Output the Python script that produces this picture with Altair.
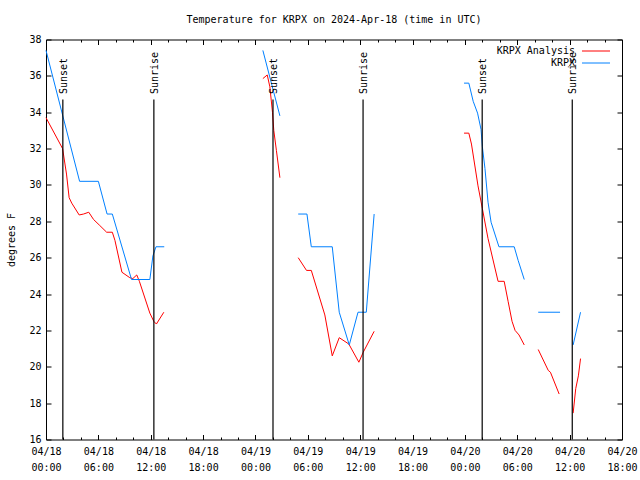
import altair as alt
import pandas as pd

# ---- data (hours since 2024-04-18 00:00 UTC, deg F) ----
an_hours = [0.0, 1.9, 2.35, 2.65, 2.95, 3.8, 4.3, 4.9, 5.45, 6.1, 6.95, 7.6, 7.9, 8.7, 9.6, 9.95, 10.4, 10.7, 11.9, 12.35, 12.65, 13.5,
            24.85, 25.35, 25.65, 25.95, 26.1, 26.4, 26.8,
            28.9, 29.85, 30.4, 31.95, 32.8, 33.6, 34.7, 35.85, 36.35, 37.6,
            47.9, 48.45, 48.75, 49.5, 50.0, 50.65, 51.8, 52.5, 52.95, 53.4, 53.75, 54.2, 54.8,
            56.4, 57.55, 57.8, 58.8,
            60.4, 60.7, 61.0, 61.25]
an_temps = [33.7, 32.0, 30.6, 29.3, 29.0, 28.35, 28.4, 28.5, 28.1, 27.8, 27.4, 27.4, 26.95, 25.2, 24.9, 24.85, 25.05, 24.7, 22.95, 22.5, 22.35, 23.0,
            35.85, 36.05, 35.4, 34.0, 33.0, 31.9, 30.4,
            26.0, 25.3, 25.3, 22.85, 20.6, 21.6, 21.25, 20.25, 20.8, 21.95,
            32.85, 32.85, 32.25, 29.95, 28.7, 27.05, 24.7, 24.7, 23.6, 22.5, 22.0, 21.75, 21.2,
            20.95, 19.8, 19.7, 18.5,
            17.45, 18.8, 19.5, 20.45]
an_seg = [1] * 22 + [2] * 7 + [3] * 10 + [4] * 13 + [5] * 4 + [6] * 4

ob_hours = [0.0, 3.85, 6.0, 7.0, 7.6, 9.8, 11.9, 12.25, 12.6, 13.55,
            24.85, 26.8,
            28.9, 29.9, 30.4, 32.8, 33.6, 34.75, 35.75, 36.7, 37.6,
            47.9, 48.45, 48.95, 49.45, 49.85, 50.0, 50.3, 50.65, 51.0, 51.9, 53.65, 54.1, 54.8,
            56.4, 58.9,
            60.4, 61.25]
ob_temps = [37.4, 30.2, 30.2, 28.4, 28.4, 24.8, 24.8, 26.1, 26.6, 26.6,
            37.4, 33.8,
            28.4, 28.4, 26.6, 26.6, 23.0, 21.2, 23.0, 23.0, 28.4,
            35.6, 35.6, 34.6, 33.95, 33.05, 32.1, 30.9, 29.05, 27.95, 26.6, 26.6, 25.85, 24.8,
            23.0, 23.0,
            21.2, 23.0]
ob_seg = [1] * 10 + [2] * 2 + [3] * 9 + [4] * 13 + [5] * 2 + [6] * 2

sun_hours = [1.93, 12.36, 26.01, 36.33, 49.98, 60.3]
sun_labels = ["Sunset", "Sunrise", "Sunset", "Sunrise", "Sunset", "Sunrise"]

x_major = [0, 6, 12, 18, 24, 30, 36, 42, 48, 54, 60, 66]
x_minor = [2, 4, 8, 10, 14, 16, 20, 22, 26, 28, 32, 34, 38, 40, 44, 46, 50, 52, 56, 58, 62, 64]
y_ticks = [16, 18, 20, 22, 24, 26, 28, 30, 32, 34, 36, 38]

series_names = ["KRPX Analysis", "KRPX"]
series_colors = ["#ff0000", "#0080ff"]

rows = []
for h, t, s in zip(an_hours, an_temps, an_seg):
    rows.append({"hour": h, "temp": t, "seg": "a%d" % s, "series": "KRPX Analysis"})
for h, t, s in zip(ob_hours, ob_temps, ob_seg):
    rows.append({"hour": h, "temp": t, "seg": "o%d" % s, "series": "KRPX"})
df = pd.DataFrame(rows)

sun = pd.DataFrame({"hour": sun_hours, "label": sun_labels,
                    "top": [34.7] * len(sun_hours), "bottom": [16] * len(sun_hours),
                    "ltop": [35.0] * len(sun_hours)})

FONT = "DejaVu Sans Mono"
FS = 10

xscale = alt.Scale(domain=[0, 66], nice=False, zero=False)
yscale = alt.Scale(domain=[16, 38], nice=False, zero=False)

label_expr = ("['04/' + toString(18 + floor(datum.value / 24)), "
              "(datum.value % 24 < 10 ? '0' : '') + toString(datum.value % 24) + ':00']")

common = dict(domain=False, grid=False, title=None, tickColor="black", tickWidth=1)

ax_bottom = alt.Axis(orient="bottom", values=x_major, labelExpr=label_expr, tickSize=5, offset=-5,
                     labelFont=FONT, labelFontSize=FS, labelColor="black", labelPadding=7,
                     labelLineHeight=16, labelOverlap=False, labelFlush=False, labelBound=False,
                     labelBaseline="top", **common)
ax_top = alt.Axis(orient="top", values=x_major, labels=False, tickSize=5, offset=-5, **common)
ax_bottom_minor = alt.Axis(orient="bottom", values=x_minor, labels=False, tickSize=2.5, offset=-2.5, **common)
ax_top_minor = alt.Axis(orient="top", values=x_minor, labels=False, tickSize=2.5, offset=-2.5, **common)

ax_left = alt.Axis(orient="left", values=y_ticks, tickSize=5, offset=-5, domain=False, grid=False,
                   tickColor="black", labelFont=FONT, labelFontSize=FS, labelColor="black",
                   labelPadding=5, title="degrees F", titleFont=FONT, titleFontSize=FS,
                   titleFontWeight="normal", titleColor="black", titlePadding=12)
ax_right = alt.Axis(orient="right", values=y_ticks, labels=False, tickSize=5, offset=-5, **common)

lines = alt.Chart(df).mark_line(strokeWidth=1, interpolate="linear").encode(
    x=alt.X("hour:Q", scale=xscale, axis=ax_bottom),
    y=alt.Y("temp:Q", scale=yscale, axis=ax_left),
    color=alt.Color("series:N",
                    scale=alt.Scale(domain=series_names, range=series_colors),
                    legend=alt.Legend(orient="none", legendX=545, legendY=6.5, title=None,
                                      symbolType="M-4,0H4", symbolSize=49, symbolStrokeWidth=1,
                                      labelAlign="right", labelOffset={"expr": "-26"}, labelFont=FONT,
                                      labelFontSize=FS, labelColor="black",
                                      rowPadding=2, padding=0)),
    detail="seg:N",
    order="hour:Q",
)

rules = alt.Chart(sun).mark_rule(color="black", strokeWidth=1.2).encode(
    x=alt.X("hour:Q", scale=xscale, axis=ax_top),
    y=alt.Y("top:Q", scale=yscale, axis=ax_right),
    y2="bottom:Q",
)

labels = alt.Chart(sun).mark_text(angle=270, align="left", baseline="middle", font=FONT,
                                  fontSize=FS, color="black", dy=1).encode(
    x=alt.X("hour:Q", scale=xscale, axis=ax_bottom_minor),
    y=alt.Y("ltop:Q", scale=yscale, axis=None),
    text="label:N",
)

minor_top = alt.Chart(sun).mark_point(opacity=0).encode(
    x=alt.X("hour:Q", scale=xscale, axis=ax_top_minor),
    y=alt.Y("bottom:Q", scale=yscale, axis=None),
)

chart = alt.layer(lines, rules, labels, minor_top).resolve_scale(
    x="shared", y="shared"
).resolve_axis(
    x="independent", y="independent"
).properties(
    width=576, height=400,
    autosize=alt.AutoSizeParams(type="none"),
    padding={"left": 46, "top": 39.5, "right": 18, "bottom": 40.5},
    title=alt.TitleParams("Temperature for KRPX on 2024-Apr-18 (time in UTC)", font=FONT,
                          fontSize=FS, fontWeight="normal", color="black", anchor="middle",
                          baseline="bottom", offset=0),
    background="white",
).configure_view(stroke="black", strokeWidth=1)

chart.save("out.html", embed_options={"renderer": "svg", "actions": False})
